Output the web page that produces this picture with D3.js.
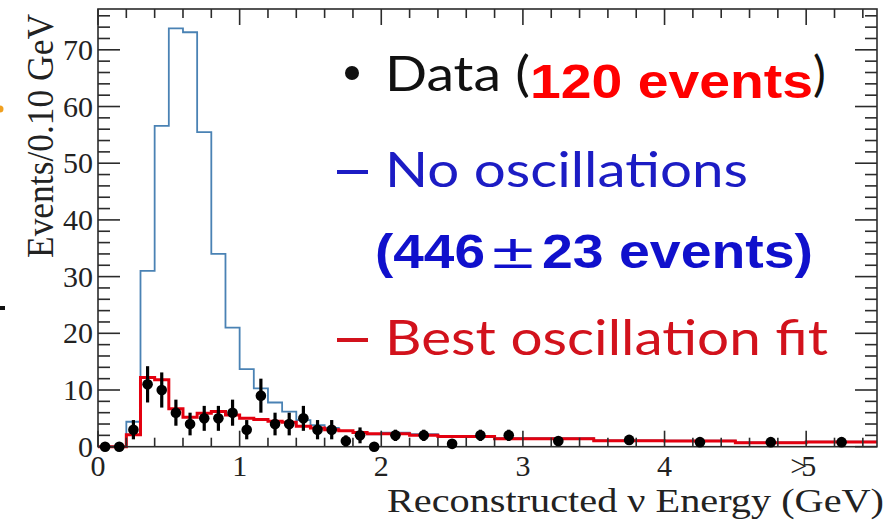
<!DOCTYPE html>
<html>
<head>
<meta charset="utf-8">
<script src="https://cdn.jsdelivr.net/npm/d3@7"></script>
<style>
  body { margin: 0; background: #fff; }
  svg { display: block; }
</style>
</head>
<body>
<svg id="chart" width="894" height="523"></svg>
<script>
// Bin edges of the reconstructed energy histogram (GeV): 0.1 GeV bins to 2,
// 0.2 GeV bins to 3, then 0.5 GeV bins; the last one holds everything above 5.
const binEdges = [0, 0.1, 0.2, 0.3, 0.4, 0.5, 0.6, 0.7, 0.8, 0.9, 1.0,
                  1.1, 1.2, 1.3, 1.4, 1.5, 1.6, 1.7, 1.8, 1.9, 2.0,
                  2.2, 2.4, 2.6, 2.8, 3.0, 3.5, 4.0, 4.5, 5.0, 5.5];

// Expected spectrum without oscillations (events / 0.10 GeV)
const noOscillation = [0, 0, 4.4, 31, 56.6, 73.8, 73.1, 55.5, 34, 21,
                       13.7, 10.3, 7.8, 6.2, 4.7, 3.8, 3.3, 2.8, 2.5, 2.2,
                       2.5, 2.2, 1.9, 1.9, 1.5, 1.5, 1.1, 1.05, 0.75, 0.9];

// Best oscillation fit (events / 0.10 GeV)
const bestFit = [0, 0, 2.1, 12.2, 11.8, 6.7, 5.2, 5.9, 6.2, 5.6,
                 5.0, 4.8, 4.5, 4.3, 3.6, 3.3, 3.0, 2.8, 2.5, 2.3,
                 2.3, 2.0, 1.8, 1.8, 1.4, 1.4, 1.05, 1.0, 0.7, 0.85];

// Observed data (events / 0.10 GeV) with statistical errors
const dataValues = [0, 0, 3, 11, 10, 6, 4, 5, 5, 6,
                    3, 9, 4, 4, 5, 3, 3, 1, 2, 0,
                    2, 2, 0.5, 2, 2, 1.0, 1.2, 0.8, 0.8, 0.8];
const dataErrors = [0, 0, 1.7, 3.2, 3.1, 2.3, 2.0, 2.2, 2.2, 2.3,
                    1.7, 3.0, 2.0, 2.0, 2.2, 1.7, 1.7, 1.0, 1.4, 0,
                    1.0, 1.0, 0.5, 1.0, 1.0, 0.45, 0.5, 0.4, 0.4, 0.4];

// Axis ticks
const xMajorTicks = [0, 1, 2, 3, 4, 5];
const xTickLabels = ["0", "1", "2", "3", "4", ">5"];
const yMajorTicks = [0, 10, 20, 30, 40, 50, 60, 70];

const svg = d3.select("#chart");
const frame = { left: 98, right: 877, top: 9, bottom: 446.7 };

const x = d3.scaleLinear().domain([0, 5.5]).range([frame.left, frame.right]);
const y = d3.scaleLinear().domain([0, 77.2]).range([frame.bottom, frame.top]);

const axisColor = "#2b2b2b";
const serif = "'Liberation Serif', 'Times New Roman', serif";

// --- histograms -----------------------------------------------------------
function stepPath(values) {
  let d = `M${x(binEdges[0])},${y(0)}V${y(values[0])}`;
  values.forEach((v, i) => {
    if (i > 0) d += `V${y(v)}`;
    d += `H${x(binEdges[i + 1])}`;
  });
  return d;
}

svg.append("path")
  .attr("d", stepPath(noOscillation))
  .attr("fill", "none")
  .attr("stroke", "#4a82b4")
  .attr("stroke-width", 1.8);

svg.append("path")
  .attr("d", stepPath(bestFit))
  .attr("fill", "none")
  .attr("stroke", "#e3000f")
  .attr("stroke-width", 3);

// --- frame and ticks ------------------------------------------------------
svg.append("rect")
  .attr("x", frame.left).attr("y", frame.top)
  .attr("width", frame.right - frame.left)
  .attr("height", frame.bottom - frame.top)
  .attr("fill", "none")
  .attr("stroke", axisColor)
  .attr("stroke-width", 1.6);

const xMinor = d3.range(0, 28).map(i => i * 0.2).filter(v => v <= 5.5);
const yMinor = d3.range(0, 39).map(i => i * 2).filter(v => v <= 77);

const ticks = svg.append("g").attr("stroke", axisColor).attr("stroke-width", 1.6);
// bottom and top
xMinor.forEach(v => {
  const major = Math.abs(v - Math.round(v)) < 1e-6;
  const len = major ? 16 : 9;
  ticks.append("line").attr("x1", x(v)).attr("x2", x(v))
    .attr("y1", frame.bottom).attr("y2", frame.bottom - len);
  ticks.append("line").attr("x1", x(v)).attr("x2", x(v))
    .attr("y1", frame.top).attr("y2", frame.top + len);
});
// left and right
yMinor.forEach(v => {
  const major = v % 10 === 0;
  const len = major ? 22 : 12;
  ticks.append("line").attr("y1", y(v)).attr("y2", y(v))
    .attr("x1", frame.left).attr("x2", frame.left + len);
  ticks.append("line").attr("y1", y(v)).attr("y2", y(v))
    .attr("x1", frame.right).attr("x2", frame.right - len);
});

// tick labels
svg.append("g").selectAll("text")
  .data(yMajorTicks).join("text")
  .attr("x", 93).attr("y", d => y(d) + 10)
  .attr("text-anchor", "end")
  .attr("font-family", serif).attr("font-size", 30).attr("fill", "#222")
  .text(d => d);

svg.append("g").selectAll("text")
  .data(xMajorTicks).join("text")
  .attr("x", (d, i) => x(d) + (i === 5 ? -6 : 0)).attr("y", 476)
  .attr("text-anchor", "middle")
  .attr("font-family", serif).attr("font-size", 30).attr("fill", "#222")
  .attr("letter-spacing", (d, i) => i === 5 ? -6 : 0)
  .text((d, i) => xTickLabels[i]);

// axis titles
svg.append("text")
  .attr("x", 884).attr("y", 512)
  .attr("text-anchor", "end")
  .attr("font-family", serif).attr("font-size", 33).attr("fill", "#222")
  .attr("textLength", 497).attr("lengthAdjust", "spacingAndGlyphs")
  .text("Reconstructed \u03bd Energy (GeV)");

svg.append("text")
  .attr("transform", "translate(53,136) rotate(-90)")
  .attr("text-anchor", "middle")
  .attr("font-family", serif).attr("font-size", 37).attr("fill", "#222")
  .attr("textLength", 244).attr("lengthAdjust", "spacingAndGlyphs")
  .text("Events/0.10 GeV");

// --- data points ------------------------------------------------------------
const centers = dataValues.map((_, i) => (binEdges[i] + binEdges[i + 1]) / 2);
const pts = svg.append("g");
dataValues.forEach((v, i) => {
  if (dataErrors[i] > 0) {
    pts.append("line")
      .attr("x1", x(centers[i])).attr("x2", x(centers[i]))
      .attr("y1", y(v - dataErrors[i])).attr("y2", y(v + dataErrors[i]))
      .attr("stroke", "#000").attr("stroke-width", 3.2);
  }
  pts.append("circle")
    .attr("cx", x(centers[i])).attr("cy", y(v))
    .attr("r", 5.3).attr("fill", "#000");
});

// --- legend -------------------------------------------------------------------
const sans = "Lato, 'Open Sans', sans-serif";
const bold = "'Liberation Sans', Arial, sans-serif";
const legend = svg.append("g");

legend.append("circle").attr("cx", 352).attr("cy", 73).attr("r", 7).attr("fill", "#111");
legend.append("text").attr("x", 385).attr("y", 91)
  .attr("font-family", sans).attr("font-size", 48).attr("fill", "#111")
  .attr("textLength", 145).attr("lengthAdjust", "spacingAndGlyphs")
  .text("Data (");
legend.append("text").attr("x", 530).attr("y", 98)
  .attr("font-family", bold).attr("font-weight", "bold").attr("font-size", 48).attr("fill", "#ff0000")
  .attr("textLength", 283).attr("lengthAdjust", "spacingAndGlyphs")
  .text("120 events");
legend.append("text").attr("x", 813).attr("y", 91)
  .attr("font-family", sans).attr("font-size", 48).attr("fill", "#111")
  .text(")");

legend.append("line").attr("x1", 337).attr("x2", 368).attr("y1", 172).attr("y2", 172)
  .attr("stroke", "#1c1cc4").attr("stroke-width", 4);
legend.append("text").attr("x", 385).attr("y", 187)
  .attr("font-family", sans).attr("font-size", 49).attr("fill", "#1c1cc4")
  .attr("textLength", 363).attr("lengthAdjust", "spacingAndGlyphs")
  .text("No oscillations");

// expected count without oscillations, wide plus-minus sign in the middle
const blueBold = { family: bold, size: 49, color: "#1010cc" };
legend.append("text").attr("x", 375).attr("y", 268)
  .attr("font-family", blueBold.family).attr("font-weight", "bold")
  .attr("font-size", blueBold.size).attr("fill", blueBold.color)
  .attr("textLength", 110).attr("lengthAdjust", "spacingAndGlyphs")
  .text("(446");
legend.append("text").attr("x", 492).attr("y", 268)
  .attr("font-family", blueBold.family)
  .attr("font-size", blueBold.size).attr("fill", blueBold.color)
  .attr("textLength", 42).attr("lengthAdjust", "spacingAndGlyphs")
  .text("\u00b1");
legend.append("text").attr("x", 542).attr("y", 268)
  .attr("font-family", blueBold.family).attr("font-weight", "bold")
  .attr("font-size", blueBold.size).attr("fill", blueBold.color)
  .attr("textLength", 271).attr("lengthAdjust", "spacingAndGlyphs")
  .text("23 events)");

legend.append("line").attr("x1", 337).attr("x2", 368).attr("y1", 340).attr("y2", 340)
  .attr("stroke", "#d2121c").attr("stroke-width", 4);
legend.append("text").attr("x", 385).attr("y", 355)
  .attr("font-family", sans).attr("font-size", 48).attr("fill", "#d2121c")
  .attr("textLength", 443).attr("lengthAdjust", "spacingAndGlyphs")
  .text("Best oscillation fit");

// small marks at the left margin
svg.append("circle").attr("cx", 0).attr("cy", 109).attr("r", 3.5).attr("fill", "#f0a020");
svg.append("rect").attr("x", 0).attr("y", 306).attr("width", 5).attr("height", 4).attr("fill", "#111");
</script>
</body>
</html>
